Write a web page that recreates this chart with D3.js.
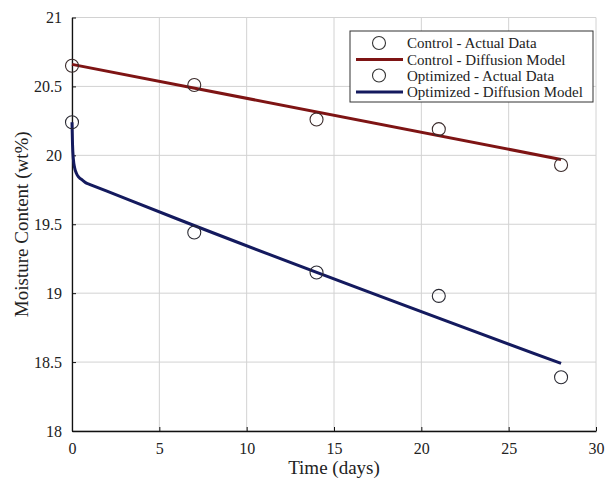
<!DOCTYPE html>
<html>
<head>
<meta charset="utf-8">
<script src="https://cdn.jsdelivr.net/npm/d3@7"></script>
<style>
  body { margin: 0; background: #fff; }
  svg text { font-family: "Liberation Serif", "DejaVu Serif", serif; fill: #222; }
</style>
</head>
<body>
<div id="container"></div>
<script>
/* DATA */
const xTicks = [0, 5, 10, 15, 20, 25, 30];
const yTicks = [18, 18.5, 19, 19.5, 20, 20.5, 21];

const actualDays = [0, 7, 14, 21, 28];
const controlActual = [20.65, 20.51, 20.26, 20.19, 19.93];
const optimizedActual = [20.24, 19.44, 19.15, 18.98, 18.39];

const controlModelDays = [0, 28];
const controlModel = [20.66, 19.97];

const optimizedModelDays = [0, 0.03, 0.08, 0.15, 0.25, 0.4, 0.6, 0.8, 1, 2, 6, 28];
const optimizedModel = [20.24, 20.08, 19.97, 19.91, 19.87, 19.84, 19.82, 19.80, 19.79, 19.74, 19.54, 18.49];

const legendLabels = ["Control - Actual Data", "Control - Diffusion Model",
                      "Optimized - Actual Data", "Optimized - Diffusion Model"];

/* CONSTANTS */
const width = 606, height = 481;
const margin = {top: 17.5, right: 10, bottom: 50, left: 72};
const red = "#7e1414", navy = "#141a5e";

const svg = d3.select("#container").append("svg")
    .attr("width", width)
    .attr("height", height);

const xScale = d3.scaleLinear().domain([0, 30]).range([margin.left, 596]);
const yScale = d3.scaleLinear().domain([18, 21]).range([431, margin.top]);

// gridlines
svg.append("g").selectAll("line.vg")
    .data(xTicks)
    .join("line")
    .attr("x1", d => xScale(d)).attr("x2", d => xScale(d))
    .attr("y1", yScale(18)).attr("y2", yScale(21))
    .attr("stroke", "#d2d2d2").attr("stroke-width", 1);

svg.append("g").selectAll("line.hg")
    .data(yTicks)
    .join("line")
    .attr("x1", xScale(0)).attr("x2", xScale(30))
    .attr("y1", d => yScale(d)).attr("y2", d => yScale(d))
    .attr("stroke", "#d2d2d2").attr("stroke-width", 1);

// axes
const xAxis = d3.axisBottom(xScale).tickValues(xTicks).tickSizeInner(-4).tickSizeOuter(0).tickPadding(9);
const yAxis = d3.axisLeft(yScale).tickValues(yTicks).tickSizeInner(-4).tickSizeOuter(0).tickPadding(10)
    .tickFormat(d3.format("~g"));

const xAxisGroup = svg.append("g")
    .attr("transform", `translate(0, ${yScale(18)})`)
    .call(xAxis);
const yAxisGroup = svg.append("g")
    .attr("transform", `translate(${xScale(0)}, 0)`)
    .call(yAxis);

[xAxisGroup, yAxisGroup].forEach(g => {
  g.select(".domain").attr("stroke", "#111").attr("stroke-width", 1.3);
  g.selectAll(".tick line").attr("stroke", "#111");
  g.selectAll(".tick text")
   .style("font-family", "Liberation Serif")
   .style("font-size", "16px")
   .attr("fill", "#222");
});
xAxisGroup.selectAll(".tick text").attr("dy", "0.85em");

// axis labels
svg.append("text")
    .attr("x", (xScale(0) + xScale(30)) / 2)
    .attr("y", 474)
    .attr("text-anchor", "middle")
    .style("font-size", "19px")
    .text("Time (days)");

svg.append("text")
    .attr("transform", "rotate(-90)")
    .attr("x", -(yScale(18) + yScale(21)) / 2)
    .attr("y", 28)
    .attr("text-anchor", "middle")
    .style("font-size", "19px")
    .text("Moisture Content (wt%)");

// model lines
const lineGen = d3.line()
    .x(d => xScale(d[0]))
    .y(d => yScale(d[1]));

svg.append("path")
    .datum(d3.zip(controlModelDays, controlModel))
    .attr("d", lineGen)
    .attr("fill", "none").attr("stroke", red).attr("stroke-width", 3);

svg.append("path")
    .datum(d3.zip(optimizedModelDays, optimizedModel))
    .attr("d", lineGen.curve(d3.curveMonotoneX))
    .attr("fill", "none").attr("stroke", navy).attr("stroke-width", 3);

// actual data points
svg.selectAll(".control-point")
    .data(d3.zip(actualDays, controlActual))
    .join("circle")
    .attr("class", "control-point")
    .attr("cx", d => xScale(d[0]))
    .attr("cy", d => yScale(d[1]))
    .attr("r", 6.5)
    .attr("fill", "none").attr("stroke", "#3a2a2a").attr("stroke-width", 1.1);

svg.selectAll(".opt-point")
    .data(d3.zip(actualDays, optimizedActual))
    .join("circle")
    .attr("class", "opt-point")
    .attr("cx", d => xScale(d[0]))
    .attr("cy", d => yScale(d[1]))
    .attr("r", 6.5)
    .attr("fill", "none").attr("stroke", "#2a2a33").attr("stroke-width", 1.1);

// legend
const legend = svg.append("g").attr("transform", "translate(350, 31)");
legend.append("rect")
    .attr("width", 243).attr("height", 71)
    .attr("fill", "#fff").attr("stroke", "#333").attr("stroke-width", 1);

const rowY = [12, 28.5, 44.5, 61];
legendLabels.forEach((label, i) => {
  const y = rowY[i];
  if (i % 2 === 0) {
    legend.append("circle")
        .attr("cx", 29).attr("cy", y).attr("r", 6.5)
        .attr("fill", "none").attr("stroke", "#333").attr("stroke-width", 1.1);
  } else {
    legend.append("line")
        .attr("x1", 6).attr("x2", 53).attr("y1", y).attr("y2", y)
        .attr("stroke", i === 1 ? red : navy).attr("stroke-width", 3);
  }
  legend.append("text")
      .attr("x", 57).attr("y", y)
      .attr("dy", "0.35em")
      .style("font-size", "15px")
      .text(label);
});
</script>
</body>
</html>
